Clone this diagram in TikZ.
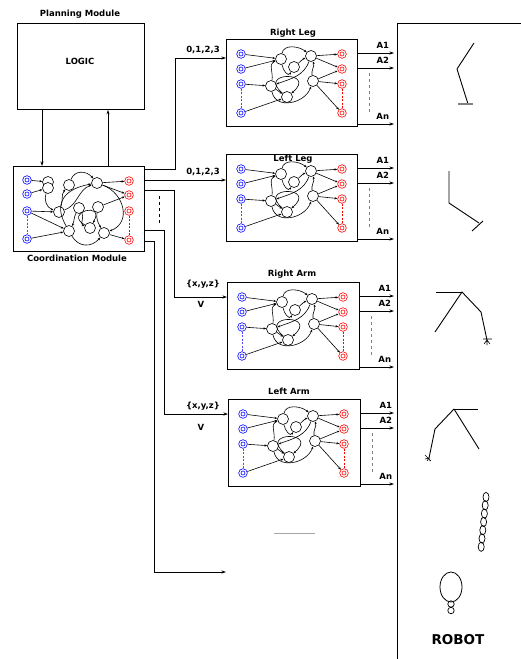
\documentclass[tikz,border=0pt]{standalone}
\usepackage{fontspec}
\setmainfont{DejaVu Sans}
\usetikzlibrary{arrows.meta}

\tikzset{
  io/.style={circle, draw=#1, line width=0.6pt, minimum size=8.6pt, inner sep=0pt,
    path picture={\draw[#1, line width=0.6pt] (path picture bounding box.center) circle [radius=2pt];}},
  hid/.style={circle, draw, fill=white, line width=0.6pt, minimum size=11pt, inner sep=0pt},
  syn/.style={-{Stealth[length=2.8pt,width=2.2pt]}, line width=0.6pt},
  sig/.style={-{Stealth[length=4.5pt,width=3pt]}, line width=0.7pt},
  modbox/.style={draw, line width=0.8pt, anchor=north west, inner sep=0pt, minimum width=#1, minimum height=87pt},
  lbl/.style={font=\bfseries\fontsize{8.5}{10}\selectfont},
  limb/.style={line width=0.9pt},
}

% input and output units of a module, with their links to the hidden units
% #1 prefix, (#2,#3) top left corner of the box
\newcommand{\ctrlnet}[3]{%
\begin{scope}[shift={(#2,#3)}]
\node[io=blue] (#1i1) at (15,15) {};
\node[io=blue] (#1i2) at (15,30) {};
\node[io=blue] (#1i3) at (15,45) {};
\node[io=blue] (#1i4) at (15,74) {};
\node[io=red] (#1o1) at (116,15) {};
\node[io=red] (#1o2) at (116,30) {};
\node[io=red] (#1o3) at (116,45) {};
\node[io=red] (#1o4) at (116,74) {};
\draw[blue!70, dash pattern=on 2pt off 1.5pt] (#1i3) -- (#1i4);
\draw[red, dash pattern=on 2pt off 1.5pt] (#1o3) -- (#1o4);

\draw[syn] (#1i1) -- (#1h1);
\draw[syn] (#1i2) -- (#1h1);
\draw[syn] (#1i3) -- (#1h5);
\draw[syn] (#1i4) -- (#1h6);
\draw[syn] (#1h3) -- (#1o1);
\draw[syn] (#1h3) -- (#1o2);
\draw[syn] (#1h4) -- (#1o2);
\draw[syn] (#1h4) -- (#1o3);
\draw[syn] (#1h4) -- (#1o4);
\end{scope}}

\begin{document}
\begin{tikzpicture}[x=1pt,y=-1pt]
\useasboundingbox (0,0) rectangle (521,659);

% planning and coordination
\node[lbl] (plan-t) at (80,14) {Planning Module};
\node[modbox=127pt, minimum height=86pt] (plan) at (17,23) {};
\node[lbl] (logic) at (80,61) {LOGIC};
\node[modbox=131pt, minimum height=85pt] (coord) at (13,166) {};
\node[lbl] (coord-t) at (77,258) {Coordination Module};

\draw[sig] ([xshift=25pt]plan.south west) -- ([xshift=29pt]coord.north west);
\draw[sig] ([xshift=95pt]coord.north west) -- ([xshift=91pt]plan.south west);

% modules
\node[modbox=131pt] (rleg) at (226,39) {};
\node[modbox=131pt] (lleg) at (226,154) {};
\node[modbox=132pt] (rarm) at (227,282) {};
\node[modbox=132pt] (larm) at (228,399) {};

\node[lbl] (rleg-t) at (293,33) {Right Leg};
\node[lbl] (lleg-t) at (293,159) {Left Leg};
\node[lbl] (rarm-t) at (292,274) {Right Arm};
\node[lbl] (larm-t) at (289,391) {Left Arm};

% hidden units first, so the nets can refer to them
\foreach \m/\x/\y in {rleg/226/39,lleg/226/154,rarm/227/282,larm/228/399}{
  \begin{scope}[shift={(\x,\y)}]
  \node[hid] (\m h1) at (55,20) {};
  \node[hid] (\m h2) at (68,28) {};
  \node[hid] (\m h3) at (85,17) {};
  \node[hid] (\m h4) at (87,42) {};
  \node[hid] (\m h5) at (45,47) {};
  \node[hid] (\m h6) at (61,58) {};
  \draw[syn] (\m h1) to[out=80,in=140] (\m h3);
  \draw[syn] (\m h1) to[out=-80,in=-120,looseness=1.3] (\m h2);
  \draw[syn] (\m h2) to[out=40,in=200] (\m h3);
  \draw[syn] (\m h5) to[out=80,in=200] (\m h1);
  \draw[syn] (\m h3) to[out=-110,in=20] (\m h5);
  \draw[syn] (\m h5) to[out=-80,in=-110,looseness=1.2] (\m h4);
  \draw[syn] (\m h4) to[out=100,in=-70] (\m h3);
  \draw[syn] (\m h6) to[out=140,in=40,looseness=10] (\m h6);
  \draw[syn] (\m h5) -- (\m h6);
  \end{scope}
}
\ctrlnet{rleg}{226}{39}
\ctrlnet{lleg}{226}{154}
\ctrlnet{rarm}{227}{282}
\ctrlnet{larm}{228}{399}

% coordination net
\begin{scope}[shift={(13,166)}]
\node[io=blue] (ci1) at (14,14) {};
\node[io=blue] (ci2) at (14,28) {};
\node[io=blue] (ci3) at (14,45) {};
\node[io=blue] (ci4) at (14,73) {};
\node[io=red] (co1) at (116,15) {};
\node[io=red] (co2) at (116,29) {};
\node[io=red] (co3) at (116,45) {};
\node[io=red] (co4) at (116,74) {};
\draw[blue!70, dash pattern=on 2pt off 1.5pt] (ci3) -- (ci4);
\draw[red, dash pattern=on 2pt off 1.5pt] (co3) -- (co4);
\node[hid] (c1) at (35,16) {};
\node[hid] (c1b) at (35,22) {};
\node[hid] (c2) at (56,19) {};
\node[hid] (c3) at (84,17) {};
\node[hid] (c4) at (46,46) {};
\node[hid] (c5) at (66,42) {};
\node[hid] (c6) at (85,41) {};
\node[hid] (c7) at (56,65) {};
\node[hid] (c8) at (77,62) {};
\node[hid] (c9) at (91,67) {};
\draw[syn] (ci1) -- (c1);
\draw[syn] (ci2) -- (c1b);
\draw[syn] (ci3) -- (c4);
\draw[syn] (ci3) -- (c7);
\draw[syn] (ci4) -- (c7);
\draw[syn] (c3) -- (co1);
\draw[syn] (c3) -- (co2);
\draw[syn] (c6) -- (co2);
\draw[syn] (c9) -- (co4);
\draw[syn] (c1b) to[out=-110,in=160] (c4);
\draw[syn] (c4) to[out=70,in=-130] (c2);
\draw[syn] (c2) to[out=70,in=130,looseness=1.2] (c3);
\draw[syn] (c7) to[out=120,in=-170,looseness=1.4] (c3);
\draw[syn] (c4) to[out=20,in=-160] (c3);
\draw[syn] (c5) to[out=-60,in=160] (c8);
\draw[syn] (c8) to[out=150,in=60,looseness=8] (c8);
\draw[syn] (c3) to[out=-20,in=20,looseness=1.3] (c9);
\draw[syn] (c6) to[out=-100,in=120] (c9);
\draw[syn] (c7) to[out=-60,in=-130,looseness=1.2] (c9);
\draw[syn] (c5) to[out=-120,in=60] (c7);
\end{scope}

% signals from coordination to the modules
\coordinate (tail) at (226,572);
\draw[sig] ([yshift=-3pt]coord.north east) -- ++(31,0) |- ([yshift=-19pt]rleg.north west);
\draw[sig] ([yshift=-14pt]coord.north east) -- ([yshift=-26pt]lleg.north west);
\draw[sig] ([yshift=-24pt]coord.north east) -- ++(30,0) |- ([yshift=-15pt]rarm.north west);
\draw[sig] ([yshift=-64pt]coord.north east) -- ++(20,0) |- ([yshift=-15pt]larm.north west);
\draw[sig] ([yshift=-75pt]coord.north east) -- ++(10,0) |- (tail);
\draw[dashed, line width=0.7pt] (159,196) -- (159,224);

\node[lbl] (cmd1) at (203,50) {0,1,2,3};
\node[lbl] (cmd2) at (203,172) {0,1,2,3};
\node[lbl] (pos1) at (203,284) {\{x,y,z\}};
\node[lbl] (vel1) at (201,304) {V};
\node[lbl] (pos2) at (203,406) {\{x,y,z\}};
\node[lbl] (vel2) at (201,427) {V};

% actuator outputs
\coordinate (rim) at (394,0);
\foreach \m in {rleg,lleg,rarm,larm}{
  \draw[sig] ([yshift=-14pt]\m.north east) coordinate (\m-a1) -- (rim |- \m-a1);
  \draw[sig] ([yshift=-29pt]\m.north east) coordinate (\m-a2) -- (rim |- \m-a2);
  \draw[sig] ([yshift=-85pt]\m.north east) coordinate (\m-an) -- (rim |- \m-an);
  \draw[gray, dashed, line width=0.8pt] ([xshift=12pt,yshift=-34pt]\m.north east) -- ([xshift=12pt,yshift=-75pt]\m.north east);
  \node[lbl] at ([xshift=25pt,yshift=-6pt]\m.north east) {A1};
  \node[lbl] at ([xshift=25pt,yshift=-21pt]\m.north east) {A2};
  \node[lbl] at ([xshift=25pt,yshift=-77pt]\m.north east) {An};
}
\draw[gray!70, line width=0.9pt] (274,533) -- (315,533);

% robot
\draw[line width=0.9pt] (397,659) -- (397,23) -- (521,23);
\draw[limb] (474,43) -- (457,69) -- (468,104);
\draw[gray, line width=1.4pt] (458,104) -- (473,104);
\draw[limb] (449,171) -- (449,203) -- (479,223);
\draw[limb] (483,221) -- (472,231);
\draw[limb] (436,292) -- (462,292);
\draw[limb] (435,332) -- (462,292) -- (481,312) -- (487,340);
\draw[line width=0.6pt] (487,340) -- ++(-3,4) (487,340) -- ++(0,5) (487,340) -- ++(3,4) (483,339) -- (492,339);
\draw[limb] (454,409) -- (478,409);
\draw[limb] (454,409) -- (479,449);
\draw[limb] (454,409) -- (435,429) -- (429,458);
\draw[line width=0.6pt] (429,458) -- ++(-4,1) (429,458) -- ++(-2,3) (429,458) -- ++(1,3) (425,455) -- (431,461);
\foreach \i in {0,...,6}
  \draw[line width=0.7pt] (486-0.8*\i,497+8.3*\i) ellipse [x radius=3pt, y radius=4.6pt];
\draw[line width=0.8pt] (451,587) ellipse [x radius=11pt, y radius=15pt];
\draw[line width=0.7pt] (451,604) circle [radius=3.2pt];
\draw[line width=0.7pt] (451,610.5) circle [radius=3.2pt];
\node[font=\bfseries\fontsize{13.5}{15}\selectfont] (robot) at (458,640) {ROBOT};
\end{tikzpicture}
\end{document}
